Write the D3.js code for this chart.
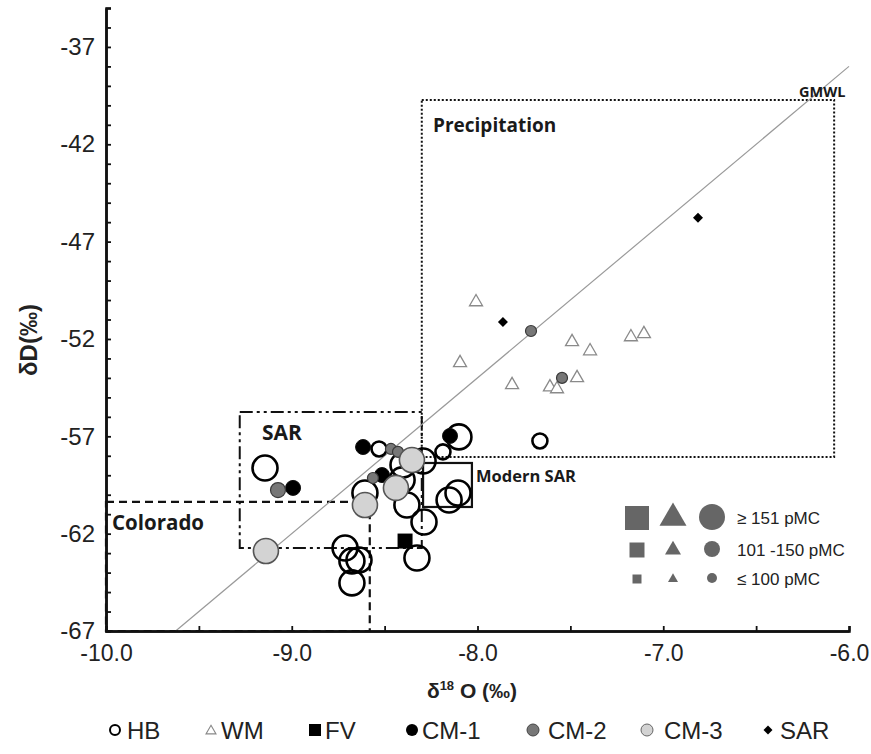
<!DOCTYPE html>
<html><head><meta charset="utf-8">
<script src="https://cdn.jsdelivr.net/npm/d3@7"></script>
<style>body{margin:0;background:#fff} svg{display:block}</style>
</head><body><svg id="c" width="871" height="754"></svg>
<script>
// ---- data ----
const xTicks = [-10.0, -9.0, -8.0, -7.0, -6.0];
const yTicks = [-37, -42, -47, -52, -57, -62, -67];
const hbX = [-9.144,-7.664,-8.100,-8.186,-8.530,-8.401,-8.293,-8.406,-8.606,-8.380,-8.153,-8.105,-8.288,-8.326,-8.713,-8.676,-8.638,-8.676];
const hbY = [-58.63,-57.24,-57.03,-57.80,-57.65,-58.47,-58.27,-59.24,-59.91,-60.53,-60.27,-59.91,-61.40,-63.25,-62.74,-63.40,-63.35,-64.53];
const hbSize = [3,2,3,2,2,3,3,3,3,3,3,3,3,3,3,3,3,3];
const wmX = [-8.008,-8.094,-7.814,-7.610,-7.572,-7.491,-7.464,-7.394,-7.174,-7.104];
const wmY = [-50.10,-53.23,-54.36,-54.47,-54.57,-52.15,-54.00,-52.62,-51.90,-51.74];
const wmSize = [2,2,2,2,2,2,2,2,2,2];
const fvX = [-8.390];
const fvY = [-62.38];
const fvSize = [2];
const cm1X = [-8.616,-8.148,-8.514,-8.993];
const cm1Y = [-57.55,-56.98,-58.99,-59.65];
const cm1Size = [2,2,2,2];
const cm2X = [-7.712,-7.545,-8.466,-8.428,-8.563,-9.074];
const cm2Y = [-51.59,-54.00,-57.65,-57.80,-59.14,-59.76];
const cm2Size = [1,1,1,1,1,2];
const cm3X = [-8.353,-8.439,-8.606,-9.139];
const cm3Y = [-58.22,-59.65,-60.53,-62.89];
const cm3Size = [3,3,3,3];
const sarX = [-7.863,-6.813];
const sarY = [-51.13,-45.78];
const sarSize = [1,1];
// field boxes [x0, x1, y0, y1]
const boxPrecip = [-8.30, -6.08, -58.06, -39.72];
const boxSAR = [-9.28, -8.30, -62.74, -55.75];
const boxColorado = [-10.0, -8.58, -67, -60.37];
const boxModern = [-8.293, -8.030, -60.63, -58.37];
// GMWL: dD = 8 d18O + 10
const gmwlSlope = 8, gmwlIntercept = 10;
const legendNames = ["HB","WM","FV","CM-1","CM-2","CM-3","SAR"];
const sizeLabels = ["\u2265 151 pMC","101 -150 pMC","\u2264 100 pMC"];

// ---- drawing ----
const svg = d3.select("#c");
const x = d3.scaleLinear().domain([-10,-6]).range([106,849]);
const y = d3.scaleLinear().domain([-67,-35]).range([631,8]);
const FONT = "'Liberation Sans', Arial, sans-serif";
const BFONT = "'Open Sans', Lato, sans-serif";

const circR = {1:5.5, 2:7.5, 3:12.5};
const sqSide = {1:9, 2:15, 3:24};
const triSide = {1:10, 2:13, 3:27};

// boxes
function box(b, dash, w){
  svg.append("rect").attr("x", x(b[0])).attr("y", y(b[3]))
    .attr("width", x(b[1]) - x(b[0])).attr("height", y(b[2]) - y(b[3]))
    .attr("fill","none").attr("stroke","#111").attr("stroke-width", w)
    .attr("stroke-dasharray", dash);
}
box(boxPrecip, "2,2", 2);
box(boxSAR, "13,4,3,4,3,4", 2);
box(boxColorado, "8,5", 2.2);
box(boxModern, null, 2.2);

// GMWL
const gx0 = (-67 - gmwlIntercept)/gmwlSlope, gx1 = -6;
svg.append("line").attr("x1", x(gx0)).attr("y1", y(gmwlSlope*gx0+gmwlIntercept))
  .attr("x2", x(gx1)).attr("y2", y(gmwlSlope*gx1+gmwlIntercept))
  .attr("stroke","#9a9a9a").attr("stroke-width",1.2);

// labels for fields
function lbl(t, px, py, fs){
  svg.append("text").attr("x",px).attr("y",py).text(t)
    .attr("font-family",BFONT).attr("font-weight","bold").attr("font-size",fs).attr("fill","#1a1a1a");
}
lbl("Precipitation", 433, 132, 19);
lbl("SAR", 262, 440, 21);
lbl("Colorado", 112, 530, 20.5);
lbl("Modern SAR", 476, 482, 16.5);
lbl("GMWL", 799, 97, 14.5);

// axes
const fmtY = d => String(d);
const fmtX = d => d.toFixed(1);
const gy = svg.append("g").attr("transform","translate(106,0)")
  .call(d3.axisRight(y).tickValues(d3.range(-67,-34,1)).tickSize(5).tickFormat(""));
const gyl = svg.append("g").attr("transform","translate(106,0)")
  .call(d3.axisLeft(y).tickValues(yTicks).tickSize(0).tickPadding(10).tickFormat(fmtY));
const gx = svg.append("g").attr("transform","translate(0,631)")
  .call(d3.axisTop(x).tickValues(d3.range(-10,-5.9,0.5)).tickSize(5).tickFormat(""));
const gxl = svg.append("g").attr("transform","translate(0,631)")
  .call(d3.axisBottom(x).tickValues(xTicks).tickSize(0).tickPadding(12).tickFormat(fmtX));
[gy,gyl,gx,gxl].forEach(g=>{
  g.selectAll(".domain").attr("stroke","#111").attr("stroke-width",2.5);
  g.selectAll(".tick line").attr("stroke","#111").attr("stroke-width",1.8);
  g.selectAll("text").attr("font-family",FONT).attr("font-size",23).attr("fill","#222");
});
gyl.selectAll("text").attr("dx", "-1").attr("font-size",24);
gxl.selectAll("text").attr("dy", "0.8em");

// axis titles
svg.append("text").attr("transform","translate(37,340) rotate(-90)").attr("text-anchor","middle")
  .attr("font-family",FONT).attr("font-weight","bold").attr("font-size",24).attr("fill","#222")
  .text("\u03B4D(\u2030)");
const xt = svg.append("text").attr("x",472).attr("y",698).attr("text-anchor","middle")
  .attr("font-family",FONT).attr("font-weight","bold").attr("font-size",21).attr("fill","#222");
xt.append("tspan").text("\u03B4");
xt.append("tspan").attr("font-size",13).attr("dy",-8).text("18");
xt.append("tspan").attr("dy",8).text(" O (\u2030)");

// marks
const sym = (type, s) => d3.symbol().type(type).size(s)();
function circles(xs, ys, ss, fill, stroke, sw){
  svg.append("g").selectAll("circle").data(xs.map((v,i)=>({x:v,y:ys[i],s:ss[i]}))).join("circle")
    .attr("cx",d=>x(d.x)).attr("cy",d=>y(d.y)).attr("r",d=>circR[d.s])
    .attr("fill",fill).attr("stroke",stroke).attr("stroke-width",sw);
}
circles(hbX, hbY, hbSize, "none", "#000", 2.6);
svg.append("g").selectAll("path").data(wmX.map((v,i)=>({x:v,y:wmY[i],s:wmSize[i]}))).join("path")
  .attr("transform",d=>`translate(${x(d.x)},${y(d.y)})`)
  .attr("d",d=>sym(d3.symbolTriangle, triSide[d.s]*triSide[d.s]*Math.sqrt(3)/4))
  .attr("fill","#fff").attr("stroke","#8a8a8a").attr("stroke-width",1.3);
svg.append("g").selectAll("path").data(fvX.map((v,i)=>({x:v,y:fvY[i],s:fvSize[i]}))).join("path")
  .attr("transform",d=>`translate(${x(d.x)},${y(d.y)})`)
  .attr("d",d=>sym(d3.symbolSquare, sqSide[d.s]*sqSide[d.s])).attr("fill","#000");
circles(cm1X, cm1Y, cm1Size, "#000", "#111", 1);
circles(cm2X, cm2Y, cm2Size, "#777", "#3a3a3a", 1.2);
circles(cm3X, cm3Y, cm3Size, "#d3d3d3", "#555", 1.6);
svg.append("g").selectAll("path").data(sarX.map((v,i)=>({x:v,y:sarY[i],s:sarSize[i]}))).join("path")
  .attr("transform",d=>`translate(${x(d.x)},${y(d.y)}) rotate(45)`)
  .attr("d",d=>sym(d3.symbolSquare, 50)).attr("fill","#000");

// size legend
const sl = svg.append("g");
const rowsY = [518, 550, 579];
[3,2,1].forEach((c,i)=>{
  const ry = rowsY[i];
  sl.append("path").attr("transform",`translate(637,${ry})`).attr("d",sym(d3.symbolSquare, sqSide[c]*sqSide[c])).attr("fill","#666");
  const ts = [27,16,10][i];
  sl.append("path").attr("transform",`translate(673,${ry})`).attr("d",sym(d3.symbolTriangle, ts*ts*Math.sqrt(3)/4)).attr("fill","#666");
  sl.append("circle").attr("cx",712).attr("cy",ry-1).attr("r",[13,8,5][i]).attr("fill","#666");
  sl.append("text").attr("x",737).attr("y",ry+6).text(sizeLabels[i])
    .attr("font-family",FONT).attr("font-size",17).attr("fill","#222");
});

// bottom legend
const lg = svg.append("g");
const mX = [115,211,315,412,533,647,768];
const tX = [127,221,325,422,548,664,780];
const LY = 730;
lg.append("circle").attr("cx",mX[0]).attr("cy",LY).attr("r",5).attr("fill","none").attr("stroke","#000").attr("stroke-width",2);
lg.append("path").attr("transform",`translate(${mX[1]},${LY+1})`).attr("d",sym(d3.symbolTriangle, 10*10*Math.sqrt(3)/4)).attr("fill","#fff").attr("stroke","#888").attr("stroke-width",1.1);
lg.append("path").attr("transform",`translate(${mX[2]},${LY})`).attr("d",sym(d3.symbolSquare, 144)).attr("fill","#000");
lg.append("circle").attr("cx",mX[3]).attr("cy",LY).attr("r",6).attr("fill","#000");
lg.append("circle").attr("cx",mX[4]).attr("cy",LY).attr("r",6).attr("fill","#777").attr("stroke","#444").attr("stroke-width",1);
lg.append("circle").attr("cx",mX[5]).attr("cy",LY).attr("r",6).attr("fill","#d3d3d3").attr("stroke","#666").attr("stroke-width",1);
lg.append("path").attr("transform",`translate(${mX[6]},${LY}) rotate(45)`).attr("d",sym(d3.symbolSquare, 40)).attr("fill","#000");
legendNames.forEach((n,i)=>{
  lg.append("text").attr("x",tX[i]).attr("y",LY+9).text(n)
    .attr("font-family",FONT).attr("font-size",24).attr("fill","#222");
});
</script></body></html>
